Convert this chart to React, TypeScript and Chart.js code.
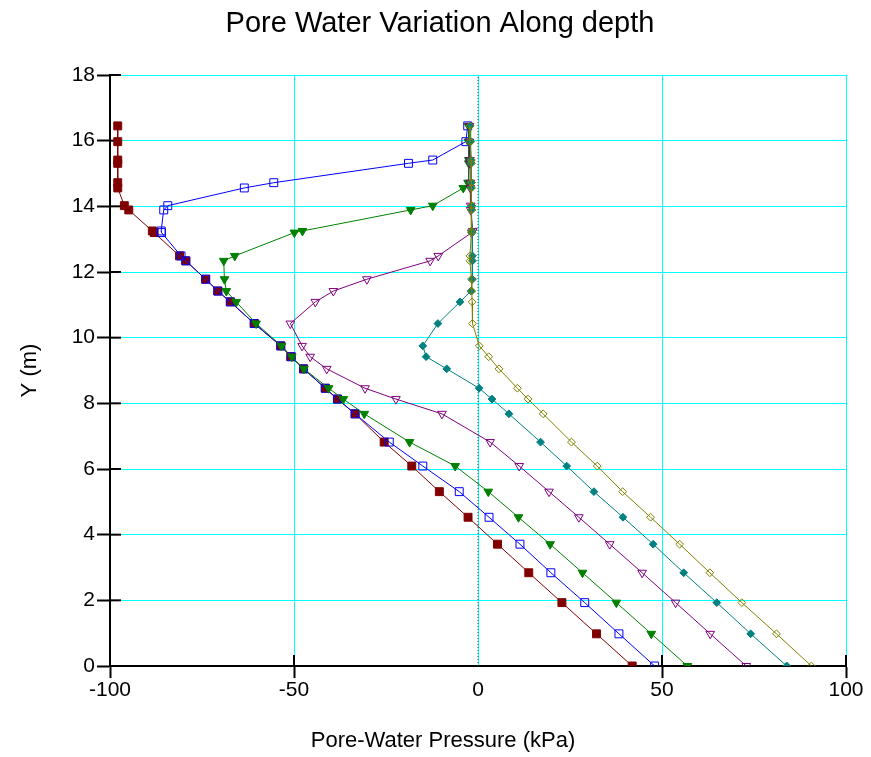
import React, { useEffect, useRef } from "react";
import { Chart, registerables } from "chart.js";

Chart.register(...registerables);

// Depth levels (m) shared by all series
const DEPTHS = [16.45, 15.97, 15.41, 15.31, 14.72, 14.56, 14.02, 13.89, 13.25, 13.2, 12.49, 12.34, 11.78, 11.42, 11.09, 10.43, 9.75, 9.42, 9.05, 8.46, 8.13, 7.68, 6.82, 6.09, 5.31, 4.53, 3.71, 2.84, 1.93, 0.98, 0];

// Pore-water pressure (kPa) for each series at the depth levels above
const SERIES_RED = [-97.9, -97.9, -97.9, -97.9, -97.9, -97.9, -96.1, -94.9, -88.5, -88.0, -81.1, -79.4, -74.0, -70.7, -67.3, -60.8, -53.6, -50.9, -47.4, -41.5, -38.2, -33.4, -25.5, -18.0, -10.5, -2.7, 5.3, 13.8, 22.8, 32.2, 41.9];
const SERIES_BLUE = [-2.8, -3.3, -12.3, -18.9, -55.5, -63.5, -84.3, -85.4, -86.1, -86.0, -80.7, -79.4, -74.0, -70.7, -67.3, -60.8, -53.6, -50.7, -47.4, -41.5, -38.2, -33.4, -24.1, -15.0, -5.1, 3.0, 11.4, 19.8, 29.0, 38.3, 48.0];
const SERIES_GREEN = [-2.6, -2.6, -2.5, -2.5, -2.7, -4.0, -12.3, -18.3, -47.7, -49.9, -66.1, -69.1, -68.9, -68.4, -65.7, -60.3, -53.4, -50.6, -47.3, -40.6, -36.6, -30.9, -18.6, -6.2, 2.8, 11.0, 19.6, 28.4, 37.6, 47.1, 56.9];
const SERIES_PURPLE = [-2.3, -2.3, -2.2, -2.2, -2.1, -2.1, -2.0, -2.0, -1.4, -1.7, -10.8, -13.0, -30.2, -39.3, -44.2, -51.0, -47.8, -45.6, -41.1, -30.7, -22.3, -9.8, 3.3, 11.2, 19.3, 27.4, 35.8, 44.6, 53.7, 63.1, 72.9];
const SERIES_TEAL = [-2.1, -2.0, -1.9, -1.9, -1.8, -1.8, -1.7, -1.7, -1.6, -1.6, -1.5, -1.5, -1.5, -1.9, -4.9, -10.9, -15.0, -14.1, -8.5, 0.3, 3.8, 8.4, 17.0, 24.1, 31.5, 39.4, 47.6, 55.9, 64.9, 74.1, 83.9];
const SERIES_OLIVE = [-2.2, -2.2, -1.8, -1.8, -1.8, -1.8, -1.8, -1.8, -1.8, -1.8, -2.2, -2.2, -1.8, -1.7, -1.6, -1.5, 0.35, 2.9, 5.7, 10.7, 13.6, 17.7, 25.4, 32.4, 39.3, 46.9, 54.8, 63.0, 71.7, 81.1, 90.6];

// Vertical reference line at zero pressure
const ZERO_LINE_X = [0, 0];
const ZERO_LINE_Y = [0, 18];

const X_TICKS = [-100, -50, 0, 50, 100];
const Y_TICKS = [0, 2, 4, 6, 8, 10, 12, 14, 16, 18];

const TITLE = "Pore Water Variation Along depth";
const X_TITLE = "Pore-Water Pressure (kPa)";
const Y_TITLE = "Y (m)";

const FONT = "'Liberation Sans', Arial, Helvetica, sans-serif";
const CLEAR = "rgba(0,0,0,0)";

function toPoints(xs: number[], ys: number[]) {
  return xs.map((x, i) => ({ x, y: ys[i] }));
}

const innerTicks = {
  id: "innerTicks",
  beforeDatasetsDraw(chart: any) {
    const { ctx, chartArea, scales } = chart;
    ctx.save();
    ctx.strokeStyle = "#000";
    ctx.lineWidth = 2;
    for (const v of Y_TICKS) {
      const y = scales.y.getPixelForValue(v);
      ctx.beginPath();
      ctx.moveTo(chartArea.left, y);
      ctx.lineTo(chartArea.left + 11, y);
      ctx.stroke();
    }
    for (const v of X_TICKS) {
      if (v === 0) continue;
      const x = scales.x.getPixelForValue(v);
      ctx.beginPath();
      ctx.moveTo(x, chartArea.bottom);
      ctx.lineTo(x, chartArea.bottom - 11);
      ctx.stroke();
    }
    ctx.restore();
  },
  afterDraw(chart: any) {
    const { ctx } = chart;
    ctx.save();
    ctx.fillStyle = "#000";
    ctx.textAlign = "center";
    ctx.textBaseline = "middle";
    ctx.font = `29px ${FONT}`;
    ctx.fillText(TITLE, 440, 24);
    ctx.font = `22px ${FONT}`;
    ctx.fillText(X_TITLE, 443, 741);
    ctx.restore();
  },
};

export default function App() {
  const canvasRef = useRef<HTMLCanvasElement | null>(null);

  useEffect(() => {
    const canvas = canvasRef.current;
    if (!canvas) return;

    const line = (
      label: string,
      xs: number[],
      color: string,
      style: string,
      radius: number,
      filled: boolean,
      rotation: number,
      order: number
    ) => ({
      label,
      data: toPoints(xs, DEPTHS),
      showLine: true,
      borderColor: color,
      backgroundColor: filled ? color : CLEAR,
      borderWidth: 1,
      pointStyle: style,
      pointRadius: radius,
      pointRotation: rotation,
      pointBorderWidth: 1,
      pointBorderColor: color,
      pointBackgroundColor: filled ? color : CLEAR,
      tension: 0,
      order,
    });

    const chart = new Chart(canvas, {
      type: "scatter",
      data: {
        datasets: [
          line("Series 1", SERIES_RED, "#800000", "rect", 5.6, true, 0, 6),
          line("Series 2", SERIES_BLUE, "#0000FF", "rect", 5.6, false, 0, 5),
          line("Series 3", SERIES_GREEN, "#008000", "triangle", 5, true, 180, 4),
          line("Series 4", SERIES_PURPLE, "#800080", "triangle", 5, false, 180, 3),
          line("Series 5", SERIES_TEAL, "#008080", "rectRot", 3.9, true, 0, 2),
          line("Series 6", SERIES_OLIVE, "#808000", "rectRot", 3.9, false, 0, 1),
          {
            label: "zero",
            data: toPoints(ZERO_LINE_X, ZERO_LINE_Y),
            showLine: true,
            borderColor: "#444444",
            borderWidth: 1,
            borderDash: [1, 2],
            pointRadius: 0,
            order: 10,
          } as any,
        ] as any,
      },
      options: {
        responsive: false,
        animation: false,
        events: [],
        layout: { padding: { left: 0, right: 25, top: 75, bottom: 0 } },
        plugins: {
          legend: { display: false },
          tooltip: { enabled: false },
          title: { display: false, text: TITLE },
        },
        scales: {
          x: {
            type: "linear",
            min: -100,
            max: 100,
            afterBuildTicks: (s: any) => {
              s.ticks = X_TICKS.map((v) => ({ value: v }));
            },
            ticks: {
              color: "#000",
              font: { family: FONT, size: 21 },
              padding: 0,
              maxRotation: 0,
            },
            grid: {
              color: "#00FFFF",
              lineWidth: 1,
              tickLength: 12,
              tickWidth: 2,
              tickColor: (c: any) => (c.tick && c.tick.value === 0 ? CLEAR : "#000"),
            },
            border: { color: "#000", width: 2 },
            title: { display: false, text: X_TITLE },
            afterFit: (s: any) => {
              s.height = 91;
            },
          },
          y: {
            type: "linear",
            min: 0,
            max: 18,
            afterBuildTicks: (s: any) => {
              s.ticks = Y_TICKS.map((v) => ({ value: v }));
            },
            ticks: {
              color: "#000",
              font: { family: FONT, size: 21 },
              padding: 2,
            },
            grid: {
              color: "#00FFFF",
              lineWidth: 1,
              tickLength: 13,
              tickWidth: 2,
              tickColor: "#000",
            },
            border: { color: "#000", width: 2 },
            title: {
              display: true,
              text: Y_TITLE,
              color: "#000",
              font: { family: FONT, size: 22 },
              padding: { top: 17, bottom: 0 },
            },
            afterFit: (s: any) => {
              s.width = 110;
            },
          },
        },
      } as any,
      plugins: [innerTicks],
    });

    return () => {
      chart.destroy();
    };
  }, []);

  return (
    <div style={{ position: "absolute", left: 0, top: 0, width: 871, height: 757, background: "#fff" }}>
      <canvas ref={canvasRef} width={871} height={757} style={{ display: "block", width: 871, height: 757 }} />
    </div>
  );
}
